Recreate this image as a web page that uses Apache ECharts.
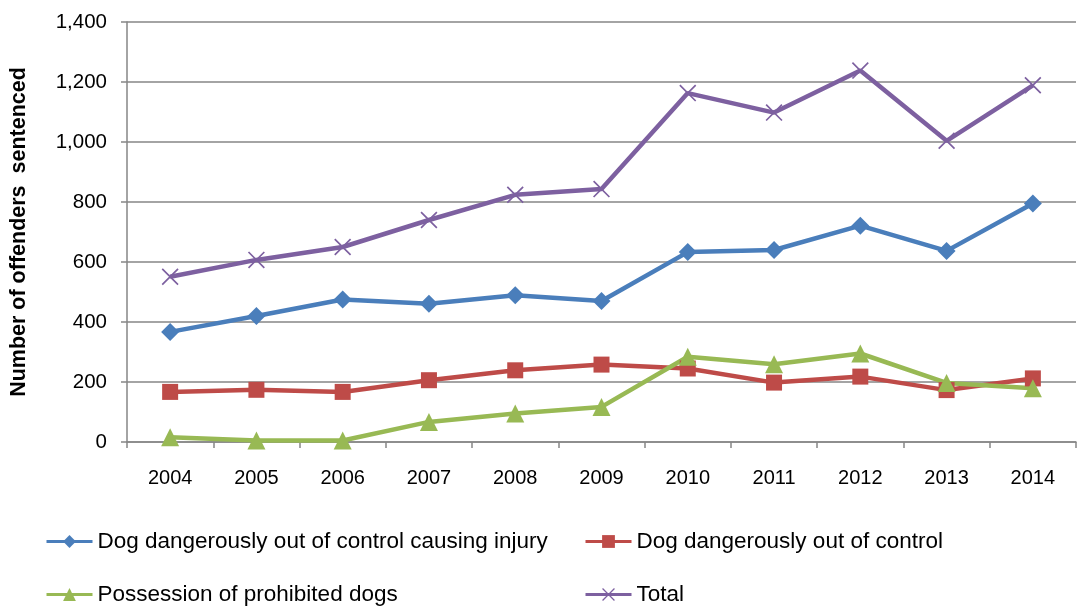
<!DOCTYPE html>
<html>
<head>
    <meta charset="utf-8">
    <title>Dog offences</title>
    <script src="https://cdn.jsdelivr.net/npm/echarts@6/dist/echarts.min.js"></script>
    <style>
        html, body { margin: 0; padding: 0; background: #fff; }
        #chart { width: 1078px; height: 606px; }
    </style>
</head>
<body>
<div id="chart"></div>
<script type="text/javascript">
    // data
    var years = ['2004', '2005', '2006', '2007', '2008', '2009', '2010', '2011', '2012', '2013', '2014'];
    var injury = [367, 420, 475, 461, 489, 470, 633, 640, 721, 637, 795];
    var outOfControl = [167, 174, 167, 206, 239, 258, 245, 198, 218, 173, 212];
    var prohibited = [16, 5, 5, 67, 95, 117, 284, 259, 295, 197, 179];
    var total = [551, 607, 650, 740, 824, 843, 1163, 1098, 1238, 1004, 1189];
    var seriesNames = [
        'Dog dangerously out of control causing injury',
        'Dog dangerously out of control',
        'Possession of prohibited dogs',
        'Total'
    ];

    var crossIcon = 'path://M0,7L7,0L100,93L93,100Z M93,0L100,7L7,100L0,93Z';
    var font = 'Liberation Sans, Arial, sans-serif';

    var myChart = echarts.init(document.getElementById('chart'));

    function legendAt(name, left, top) {
        return {
            data: [name],
            left: left,
            top: top,
            itemWidth: 46,
            itemHeight: 16,
            lineStyle: { width: 3 },
            textStyle: { fontFamily: font, fontSize: 22.5, color: '#000' }
        };
    }

    function lineSeries(name, data, color, symbol, size) {
        return {
            name: name,
            type: 'line',
            data: data,
            symbol: symbol,
            symbolSize: size,
            showSymbol: true,
            lineStyle: { color: color, width: 4.5 },
            itemStyle: { color: color },
            emphasis: { disabled: true },
            animation: false
        };
    }

    myChart.setOption({
        backgroundColor: '#fff',
        grid: { left: 125, right: 2, top: 22, bottom: 164 },
        legend: [
            legendAt(seriesNames[0], 40, 525),
            legendAt(seriesNames[1], 579, 525),
            legendAt(seriesNames[2], 40, 578),
            legendAt(seriesNames[3], 579, 578)
        ],
        xAxis: {
            type: 'category',
            data: years,
            boundaryGap: true,
            axisLine: { lineStyle: { color: '#868686', width: 1.5 } },
            axisTick: { show: true, length: 6, lineStyle: { color: '#868686', width: 1.5 } },
            axisLabel: { margin: 26, fontFamily: font, fontSize: 20, color: '#000' }
        },
        yAxis: {
            type: 'value',
            min: 0,
            max: 1400,
            interval: 200,
            name: 'Number of offenders  sentenced',
            nameLocation: 'middle',
            nameGap: 97,
            nameTextStyle: { fontFamily: font, fontSize: 21.5, fontWeight: 'bold', color: '#000' },
            axisLine: { show: true, lineStyle: { color: '#868686', width: 1.5 } },
            axisTick: { show: true, length: 6, lineStyle: { color: '#868686', width: 1.5 } },
            splitLine: { lineStyle: { color: '#868686', width: 1.5 } },
            axisLabel: {
                margin: 20,
                fontFamily: font,
                fontSize: 20.5,
                color: '#000',
                formatter: function (v) { return v.toLocaleString('en-US'); }
            }
        },
        series: [
            lineSeries(seriesNames[0], injury, '#4A7EBB', 'diamond', 18),
            lineSeries(seriesNames[1], outOfControl, '#BE4B48', 'rect', 16),
            lineSeries(seriesNames[2], prohibited, '#98B954', 'triangle', 18),
            lineSeries(seriesNames[3], total, '#7D60A0', crossIcon, 17)
        ]
    });
</script>
</body>
</html>
